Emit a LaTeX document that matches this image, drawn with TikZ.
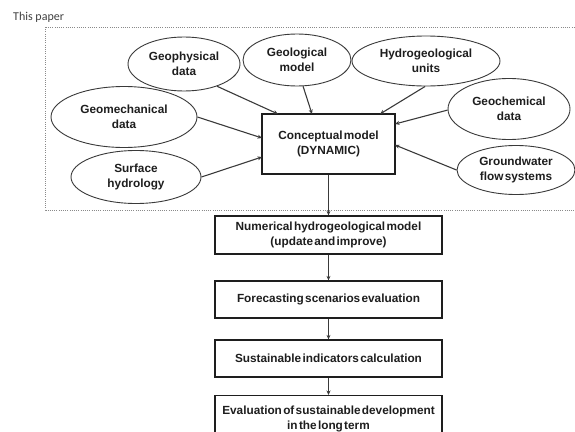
\documentclass[tikz,border=0pt]{standalone}
\usepackage{fontspec}
\setmainfont[WordSpace=0.4]{Liberation Sans}
\newfontfamily\notefont{Carlito}
\usetikzlibrary{shapes.geometric,arrows.meta}
\definecolor{ink}{HTML}{1E1E1E}
\definecolor{edge}{HTML}{3A3A3A}
\definecolor{frame}{HTML}{8A8A8A}
\tikzset{
  txt/.style={font=\bfseries\fontsize{11.8}{15}\selectfont, text=ink, align=center},
  oval/.style={txt, ellipse, draw=edge, line width=0.9pt, fill=white, inner sep=0pt},
  stepbox/.style={txt, rectangle, draw=ink, line width=1.3pt, fill=white, minimum width=227pt, inner sep=0pt},
  mainbox/.style={txt, rectangle, draw=ink, line width=2.2pt, fill=white, minimum width=133pt, minimum height=60pt, inner sep=0pt},
  arr/.style={draw=edge, line width=1.1pt, -{Stealth[length=4.5pt,width=4pt]}},
  framebox/.style={draw=frame, line width=0.9pt, dash pattern=on 1pt off 1.2pt}
}
\begin{document}
\begin{tikzpicture}[x=1pt,y=-1pt]
\useasboundingbox (0,0) rectangle (575,431);
\clip (0,0) rectangle (575,431);
% frame
\draw[framebox] (45.7,27) -- (585,27) (45.7,27) -- (45.7,210) -- (585,210);
\node[anchor=base west, inner sep=0pt, font=\notefont\fontsize{12}{14}\selectfont, text=black!75] (tp) at (13,20) {This paper};
% main box
\node[mainbox] (cm) at (328.5,144) {Conceptual model\\(DYNAMIC)};
% ellipses
\node[oval, minimum width=112pt, minimum height=54pt] (gph) at (184,64) {Geophysical\\data};
\node[oval, minimum width=108pt, minimum height=52pt] (glm) at (297,60) {Geological\\model};
\node[oval, minimum width=148pt, minimum height=50pt] (hyd) at (426,61) {Hydrogeological\\units};
\node[oval, minimum width=122pt, minimum height=61pt] (gch) at (509,109) {Geochemical\\data};
\node[oval, minimum width=118pt, minimum height=49pt] (gws) at (516,170) {Groundwater\\flow systems};
\node[oval, minimum width=146pt, minimum height=61pt] (gmc) at (124,117) {Geomechanical\\data};
\node[oval, minimum width=130pt, minimum height=53pt] (srf) at (136,177) {Surface\\hydrology};
% targets on the main box
\coordinate (t1) at (278,114);
\coordinate (t2) at (312,114);
\coordinate (t3) at (380,114);
\coordinate (t4) at (395,124);
\coordinate (t5) at (395,145);
\coordinate (t6) at (262,138);
\coordinate (t7) at (262,157);
\draw[arr] (gph.-34) -- (t1);
\draw[arr] (glm.-77) -- (t2);
\draw[arr] (hyd.-92) -- (t3);
\draw[arr] (gch.181) -- (t4);
\draw[arr] (gws.180) -- (t5);
\draw[arr] (gmc.0) -- (t6);
\draw[arr] (srf.0) -- (t7);
% chain
\node[stepbox, minimum height=38pt] (num) at (328.5,235) {Numerical hydrogeological model\\(update and improve)};
\node[stepbox, minimum height=37pt] (fc) at (328.5,299.5) {Forecasting scenarios evaluation};
\node[stepbox, minimum height=37pt] (si) at (328.5,358.5) {Sustainable indicators calculation};
\node[stepbox, minimum height=46pt, anchor=north] (ev) at (328.5,395) {Evaluation of sustainable development\\in the long term};
\draw[arr] (cm) -- (num);
\draw[arr] (num) -- (fc);
\draw[arr] (fc) -- (si);
\draw[arr] (si) -- (ev);
\end{tikzpicture}
\end{document}
